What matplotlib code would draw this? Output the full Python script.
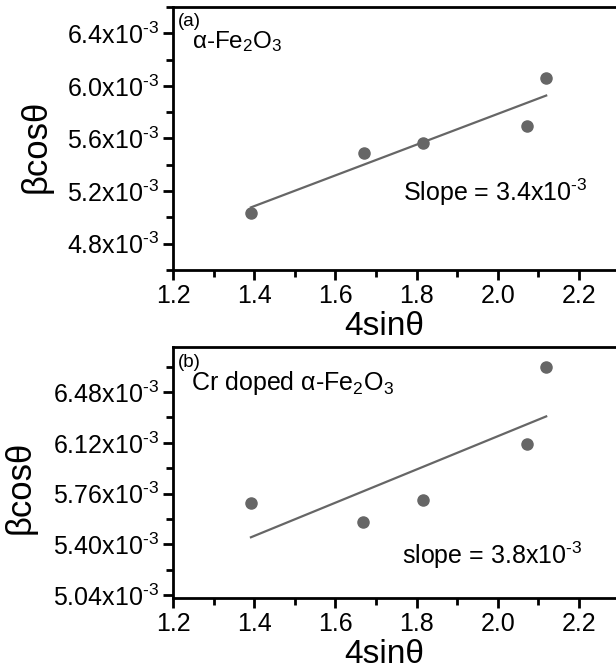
import numpy as np
import matplotlib
matplotlib.use('Agg')
import matplotlib.pyplot as plt
from matplotlib.ticker import FuncFormatter, MultipleLocator

plt.rcParams['font.family'] = ['Liberation Sans', 'DejaVu Sans']
plt.rcParams['mathtext.fontset'] = 'custom'
plt.rcParams['mathtext.rm'] = 'Liberation Sans'
plt.rcParams['mathtext.it'] = 'Liberation Sans:italic'
plt.rcParams['mathtext.default'] = 'rm'

# Data
x_a = [1.392, 1.670, 1.816, 2.072, 2.119]
y_a = [5.035e-3, 5.490e-3, 5.567e-3, 5.696e-3, 6.060e-3]

x_b = [1.392, 1.668, 1.816, 2.072, 2.119]
y_b = [5.693e-3, 5.558e-3, 5.715e-3, 6.112e-3, 6.659e-3]

yticks_a = [4.8e-3, 5.2e-3, 5.6e-3, 6.0e-3, 6.4e-3]
yticks_b = [5.04e-3, 5.40e-3, 5.76e-3, 6.12e-3, 6.48e-3]
xticks = [1.2, 1.4, 1.6, 1.8, 2.0, 2.2]

grey = '#666666'
exp_txt = "x10$^{\\text{-}3}$"

fig = plt.figure(figsize=(6.16, 6.71), dpi=100)
ax1 = fig.add_axes([0.2808, 0.5976, 1.006 - 0.2808, 0.9896 - 0.5976])
ax2 = fig.add_axes([0.2808, 0.1088, 1.006 - 0.2808, 0.4829 - 0.1088])


def style(ax, yticks, ylim, minor, fmt):
    ax.set_xlim(1.2, 2.3)
    ax.set_ylim(*ylim)
    ax.set_xticks(xticks)
    ax.xaxis.set_minor_locator(MultipleLocator(0.1))
    ax.set_yticks(yticks)
    ax.yaxis.set_minor_locator(MultipleLocator(minor))
    ax.xaxis.set_major_formatter(FuncFormatter(lambda v, p: f"{v:.1f}"))
    ax.yaxis.set_major_formatter(FuncFormatter(lambda v, p: fmt.format(v * 1e3) + exp_txt))
    for s in ['top', 'left', 'bottom']:
        ax.spines[s].set_linewidth(2)
    ax.spines['right'].set_visible(False)
    ax.tick_params(which='major', length=7, width=2, labelsize=18, pad=3)
    ax.tick_params(which='minor', length=5, width=2)
    ax.set_xlabel('4sinθ', fontsize=24)
    ax.set_ylabel('βcosθ', fontsize=25)


def fit_line(ax, x, y):
    x = np.array(x)
    m, c = np.polyfit(x, np.array(y), 1)
    xs = np.array([x.min(), x.max()])
    ax.plot(xs, m * xs + c, color=grey, lw=1.6, zorder=2)
    ax.plot(x, y, 'o', color=grey, ms=8, zorder=3)


# panel (a)
style(ax1, yticks_a, (4.6e-3, 6.6e-3), 0.2e-3, "{:.1f}")
fit_line(ax1, x_a, y_a)
ax1.text(0.011, 0.943, '(a)', transform=ax1.transAxes, fontsize=13.5, va='center')
ax1.text(0.043, 0.867, 'α-Fe$_2$O$_3$', transform=ax1.transAxes, fontsize=17.5, va='center')
ax1.text(0.515, 0.297, 'Slope = 3.4' + exp_txt, transform=ax1.transAxes, fontsize=18, va='center')
ax1.xaxis.set_label_coords(0.472, -0.155)
ax1.yaxis.set_label_coords(-0.269, 0.47)

# panel (b)
style(ax2, yticks_b, (5.02e-3, 6.80e-3), 0.18e-3, "{:.2f}")
fit_line(ax2, x_b, y_b)
ax2.text(0.011, 0.940, '(b)', transform=ax2.transAxes, fontsize=13.5, va='center')
ax2.text(0.040, 0.857, 'Cr doped α-Fe$_2$O$_3$', transform=ax2.transAxes, fontsize=18, va='center')
ax2.text(0.513, 0.171, 'slope = 3.8' + exp_txt, transform=ax2.transAxes, fontsize=18, va='center')
ax2.xaxis.set_label_coords(0.472, -0.165)
ax2.yaxis.set_label_coords(-0.305, 0.44)

fig.savefig('out.png', dpi=100)
